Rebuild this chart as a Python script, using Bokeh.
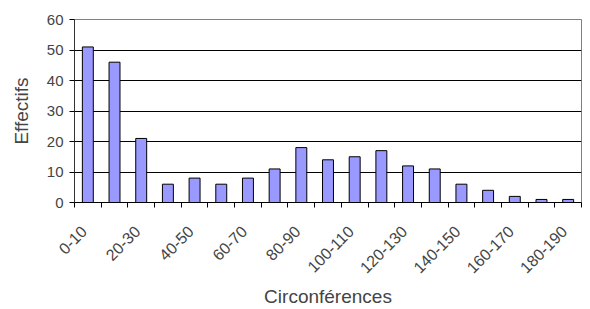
import math
from bokeh.plotting import figure
from bokeh.models import FixedTicker, ColumnDataSource
from bokeh.embed import file_html
from bokeh.resources import INLINE

categories = ["0-10", "10-20", "20-30", "30-40", "40-50", "50-60", "60-70", "70-80",
              "80-90", "90-100", "100-110", "110-120", "120-130", "130-140", "140-150",
              "150-160", "160-170", "170-180", "180-190"]
effectifs = [51, 46, 21, 6, 8, 6, 8, 11, 18, 14, 15, 17, 12, 11, 6, 4, 2, 1, 1]
y_ticks = [0, 10, 20, 30, 40, 50, 60]
x_title = "Circonférences"
y_title = "Effectifs"

n = len(categories)
xs = list(range(n))
src = ColumnDataSource(dict(x=xs, top=effectifs, cat=categories))

p = figure(width=586, height=309, output_backend="svg", toolbar_location=None,
           x_range=(-0.5, n - 0.5), y_range=(0, 60),
           min_border_left=74, min_border_top=19, min_border_right=5, min_border_bottom=100)

p.vbar(x="x", top="top", width=0.41, source=src, fill_color="#9999FF",
       line_color="#000000", line_width=1)

font = "Liberation Sans"

shift = -0.15
major = xs[::2]
major_pos = [i + shift for i in major]
p.xaxis.ticker = FixedTicker(ticks=major_pos, minor_ticks=[i - 0.5 for i in range(n + 1)])
p.xaxis.major_label_overrides = {i + shift: categories[i] for i in major}
p.xaxis.major_label_orientation = math.pi / 4
p.xaxis.major_tick_line_color = None
p.xaxis.minor_tick_line_color = "#000000"
p.xaxis.minor_tick_out = 5
p.xaxis.minor_tick_in = 0
p.xaxis.axis_line_color = "#000000"
p.xaxis.major_label_text_font = font
p.xaxis.major_label_text_font_size = "16px"
p.xaxis.major_label_standoff = 20
p.xaxis.axis_label = x_title
p.xaxis.axis_label_text_font = font
p.xaxis.axis_label_text_font_size = "19px"
p.xaxis.axis_label_text_font_style = "normal"
p.xaxis.axis_label_standoff = 4

p.yaxis.ticker = FixedTicker(ticks=y_ticks)
p.yaxis.minor_tick_line_color = None
p.yaxis.major_tick_out = 5
p.yaxis.major_tick_in = 0
p.yaxis.axis_line_color = "#333333"
p.yaxis.major_label_text_font = font
p.yaxis.major_label_text_font_size = "15px"
p.yaxis.major_label_standoff = 6
p.yaxis.axis_label = y_title
p.yaxis.axis_label_text_font = font
p.yaxis.axis_label_text_font_size = "19px"
p.yaxis.axis_label_text_font_style = "normal"
p.yaxis.axis_label_standoff = 12

p.xgrid.grid_line_color = None
p.ygrid.grid_line_color = "#000000"
p.ygrid.grid_line_width = 1

p.outline_line_color = "#808080"
p.outline_line_width = 1
p.background_fill_color = "white"
p.border_fill_color = "white"

open("out.html", "w").write(file_html(p, INLINE))
